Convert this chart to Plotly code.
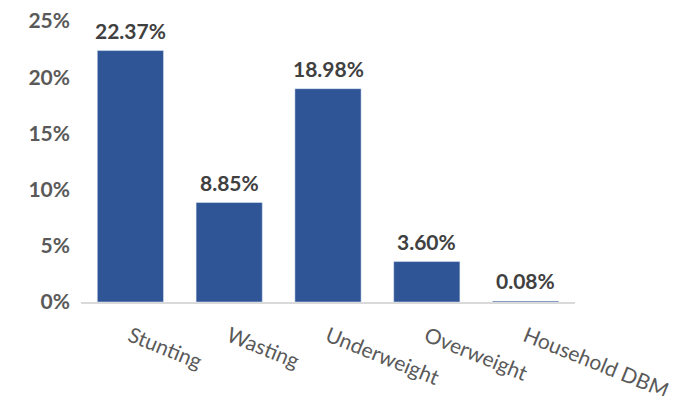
import plotly.graph_objects as go

categories = ["Stunting", "Wasting", "Underweight", "Overweight", "Household DBM"]
values = [0.2237, 0.0885, 0.1898, 0.0360, 0.0008]
labels = ["22.37%", "8.85%", "18.98%", "3.60%", "0.08%"]
ytick_vals = [0, 0.05, 0.10, 0.15, 0.20, 0.25]
ytick_text = ["0%", "5%", "10%", "15%", "20%", "25%"]

fig = go.Figure(go.Bar(
    x=categories, y=values,
    marker=dict(color="#2F5597"), width=0.67, cliponaxis=False,
))
for c, v, t in zip(categories, values, labels):
    fig.add_annotation(x=c, y=v, text=t, showarrow=False, yanchor="bottom", yshift=6,
                       font=dict(family="Lato", size=21, color="#404040", weight="bold"))
fig.update_layout(
    width=696, height=396, plot_bgcolor="white", paper_bgcolor="white",
    margin=dict(l=81, r=121, t=21, b=94), showlegend=False,
    font=dict(family="Lato"),
)
fig.update_yaxes(range=[0, 0.25], tickvals=ytick_vals, ticktext=ytick_text,
                 showgrid=False, zeroline=False, showline=False, automargin=False,
                 tickfont=dict(family="Lato", size=21, color="#595959", weight="bold"),
                 ticks="", ticklabelstandoff=10)
fig.update_xaxes(showline=True, linecolor="#D9D9D9", linewidth=2, tickangle=22,
                 automargin=False,
                 tickfont=dict(family="Lato", size=21, color="#595959"), ticks="",
                 ticklabelstandoff=12)
fig.write_html("out.html")
